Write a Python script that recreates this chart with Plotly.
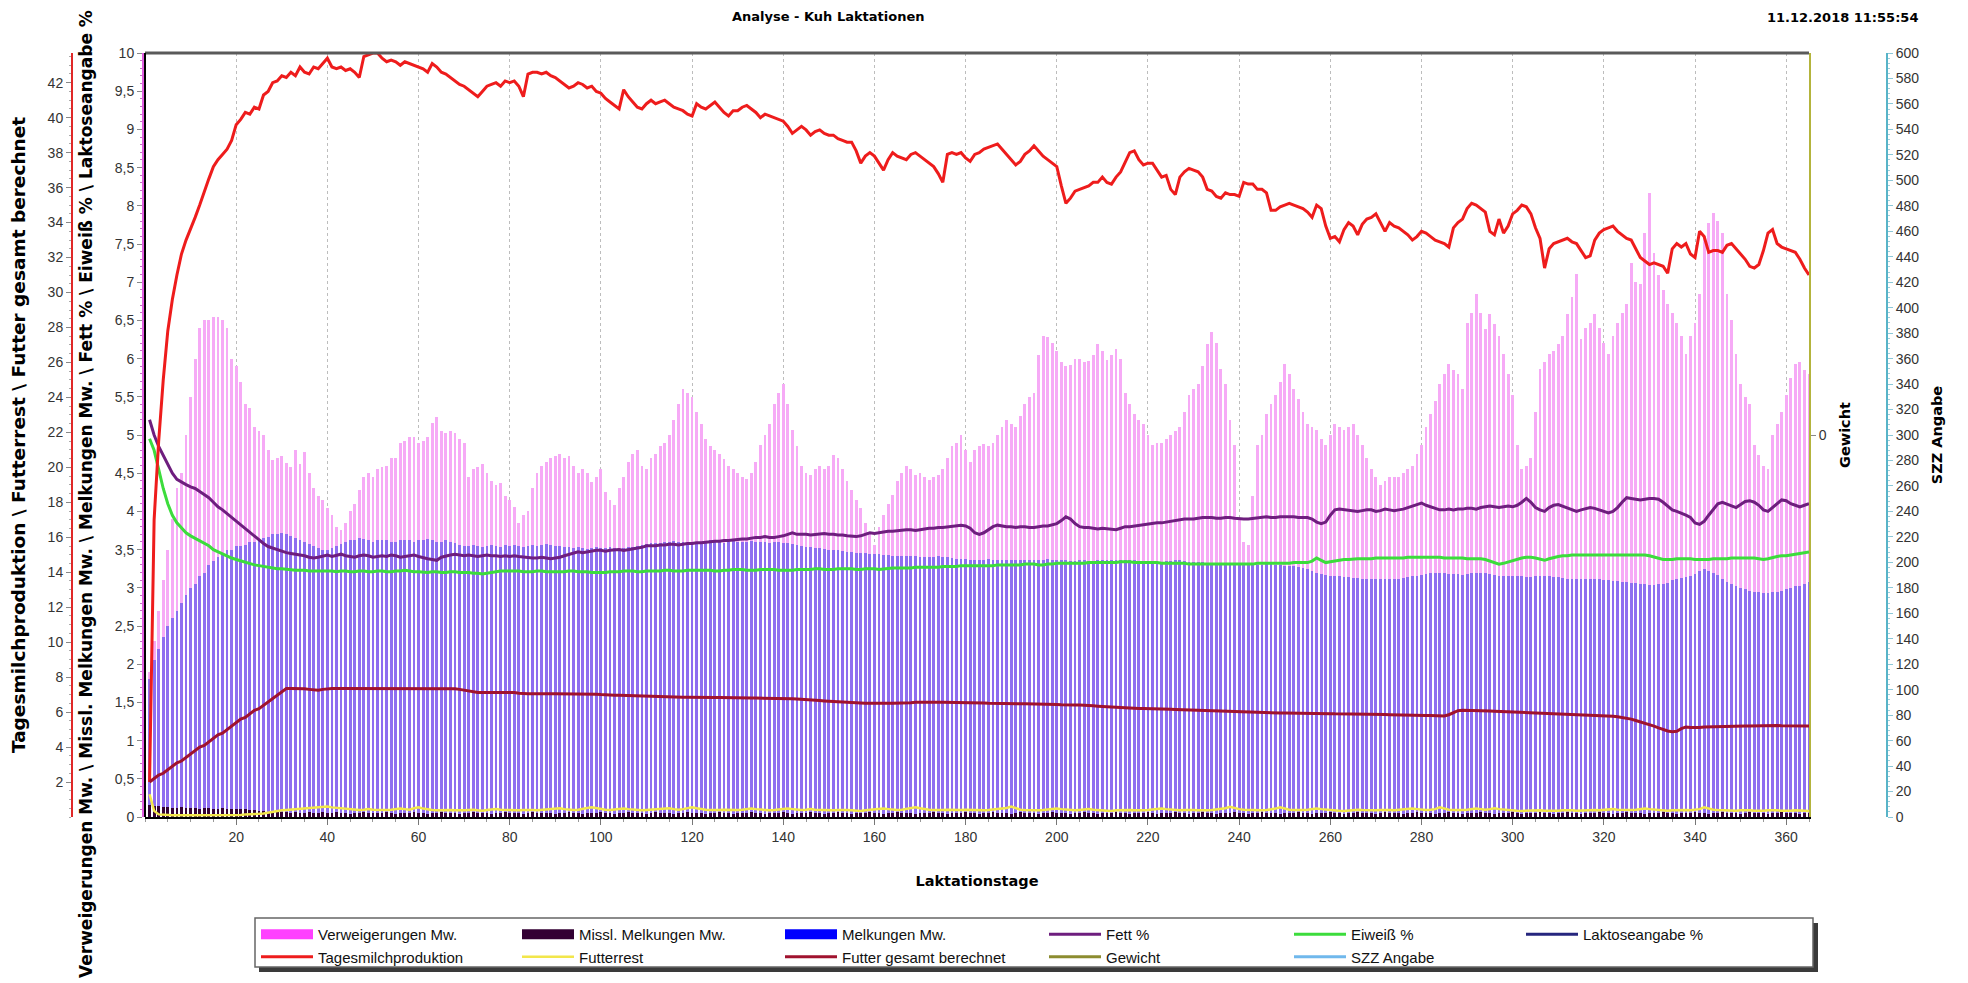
import plotly.graph_objects as go

days = list(range(1, 366))

milk = [
    2.0, 17.0, 21.5, 25.0, 27.8, 29.6, 31.0, 32.2, 33.0, 33.6,
    34.3, 35.0, 35.8, 36.5, 37.2, 37.6, 37.9, 38.2, 38.7, 39.6,
    39.9, 40.3, 40.2, 40.6, 40.5, 41.3, 41.5, 42.0, 42.1, 42.4,
    42.3, 42.6, 42.4, 42.9, 42.6, 42.5, 42.9, 42.8, 43.1, 43.4,
    42.9, 42.8, 42.9, 42.7, 42.8, 42.6, 42.3, 43.5, 43.6, 43.7,
    43.7, 43.4, 43.2, 43.3, 43.2, 43.0, 43.2, 43.1, 43.0, 42.9,
    42.8, 42.6, 43.1, 42.9, 42.6, 42.5, 42.3, 42.1, 41.9, 41.8,
    41.6, 41.4, 41.2, 41.5, 41.8, 41.9, 42.0, 41.8, 42.1, 42.0,
    42.1, 41.8, 41.2, 42.5, 42.6, 42.6, 42.5, 42.6, 42.4, 42.3,
    42.1, 41.9, 41.7, 41.8, 42.0, 41.9, 41.7, 41.8, 41.5, 41.4,
    41.1, 40.9, 40.7, 40.5, 41.6, 41.2, 40.9, 40.6, 40.5, 40.8,
    41.0, 40.8, 40.9, 41.0, 40.8, 40.6, 40.5, 40.4, 40.2, 40.1,
    40.8, 40.6, 40.5, 40.7, 40.9, 40.6, 40.3, 40.1, 40.4, 40.4,
    40.6, 40.7, 40.5, 40.3, 40.0, 40.2, 40.1, 40.0, 39.9, 39.8,
    39.5, 39.1, 39.3, 39.5, 39.3, 39.0, 39.2, 39.3, 39.1, 39.0,
    39.0, 38.8, 38.7, 38.6, 38.6, 38.1, 37.4, 37.8, 38.0, 37.8,
    37.4, 37.0, 37.6, 38.0, 37.8, 37.7, 37.6, 37.9, 38.0, 37.8,
    37.6, 37.4, 37.2, 36.8, 36.3, 37.9, 38.0, 37.9, 38.0, 37.7,
    37.5, 37.9, 38.0, 38.2, 38.3, 38.4, 38.5, 38.2, 37.9, 37.6,
    37.3, 37.5, 37.9, 38.1, 38.4, 38.1, 37.8, 37.6, 37.4, 37.2,
    36.1, 35.1, 35.4, 35.8, 35.9, 36.0, 36.1, 36.3, 36.3, 36.6,
    36.3, 36.2, 36.6, 36.9, 37.5, 38.0, 38.1, 37.6, 37.3, 37.4,
    37.4, 37.0, 36.6, 36.7, 35.9, 35.6, 36.6, 36.9, 37.1, 37.0,
    36.9, 36.6, 35.9, 35.8, 35.5, 35.4, 35.7, 35.6, 35.6, 35.5,
    36.3, 36.2, 36.2, 35.9, 35.9, 35.7, 34.7, 34.7, 34.9, 35.0,
    35.1, 35.0, 34.9, 34.8, 34.6, 34.3, 35.0, 34.8, 33.8, 33.1,
    33.2, 32.9, 33.6, 34.0, 33.8, 33.3, 33.9, 34.2, 34.3, 34.5,
    34.0, 33.5, 34.0, 33.8, 33.7, 33.5, 33.3, 33.0, 33.2, 33.5,
    33.4, 33.2, 33.0, 32.9, 32.8, 32.6, 33.7, 34.0, 34.2, 34.8,
    35.1, 35.0, 34.8, 34.6, 33.5, 33.3, 34.2, 33.4, 33.8, 34.5,
    34.7, 35.0, 34.9, 34.5, 33.7, 33.1, 31.4, 32.5, 32.8, 32.9,
    33.0, 33.1, 32.9, 32.8, 32.4, 32.0, 32.1, 33.0, 33.4, 33.6,
    33.7, 33.8, 33.5, 33.3, 33.1, 33.0, 32.5, 32.0, 31.8, 31.6,
    31.7, 31.6, 31.5, 31.1, 32.5, 32.8, 32.6, 32.8, 32.2, 32.0,
    33.5, 33.2, 32.3, 32.4, 32.4, 32.3, 32.7, 32.8, 32.5, 32.2,
    31.9, 31.5, 31.4, 31.6, 32.4, 33.4, 33.6, 32.8, 32.6, 32.5,
    32.4, 32.3, 31.9, 31.4, 31.0,
]

refusals = [
    1.9, 2.3, 2.7, 3.1, 3.5, 3.9, 4.3, 4.5, 5.0, 5.5,
    6.0, 6.4, 6.5, 6.5, 6.55, 6.55, 6.5, 6.4, 6.0, 5.9,
    5.7, 5.4, 5.35, 5.1, 5.05, 5.0, 4.8, 4.67, 4.7, 4.72,
    4.63, 4.58, 4.8, 4.62, 4.78, 4.5, 4.3, 4.2, 4.15, 4.05,
    3.95, 3.8, 3.76, 3.85, 4.0, 4.1, 4.28, 4.45, 4.5, 4.45,
    4.55, 4.58, 4.6, 4.7, 4.7, 4.9, 4.92, 4.98, 4.98, 4.9,
    4.92, 4.98, 5.16, 5.24, 5.05, 5.03, 5.05, 5.02, 4.95, 4.9,
    4.45, 4.55, 4.58, 4.62, 4.5, 4.4, 4.35, 4.37, 4.2, 4.15,
    4.06, 3.85, 3.95, 4.0, 4.3, 4.5, 4.6, 4.65, 4.7, 4.72,
    4.75, 4.7, 4.72, 4.6, 4.5, 4.55, 4.5, 4.38, 4.45, 4.55,
    4.25, 4.15, 4.08, 4.3, 4.45, 4.65, 4.75, 4.8, 4.6, 4.55,
    4.7, 4.75, 4.85, 4.9, 5.0, 5.2, 5.4, 5.6, 5.55, 5.5,
    5.3, 5.15, 4.95, 4.85, 4.8, 4.75, 4.68, 4.6, 4.55, 4.5,
    4.45, 4.42, 4.5, 4.65, 4.87, 5.0, 5.15, 5.4, 5.55, 5.67,
    5.4, 5.07, 4.85, 4.6, 4.5, 4.48, 4.55, 4.6, 4.55, 4.6,
    4.74, 4.7, 4.55, 4.4, 4.28, 4.15, 4.05, 3.85, 3.7, 3.56,
    3.8, 3.95, 4.1, 4.22, 4.4, 4.5, 4.6, 4.55, 4.48, 4.5,
    4.45, 4.41, 4.45, 4.48, 4.55, 4.7, 4.85, 4.9, 5.0, 4.8,
    4.65, 4.8, 4.85, 4.88, 4.85, 4.9, 5.0, 5.1, 5.2, 5.15,
    5.1, 5.25, 5.4, 5.5, 5.55, 6.05, 6.3, 6.28, 6.2, 6.1,
    5.95, 5.9, 5.92, 6.0, 6.0, 5.95, 5.97, 6.05, 6.19, 6.1,
    5.98, 6.05, 6.13, 6.0, 5.55, 5.4, 5.27, 5.2, 5.14, 5.0,
    4.87, 4.9, 4.9, 4.95, 5.0, 5.05, 5.1, 5.3, 5.53, 5.6,
    5.67, 5.9, 6.19, 6.35, 6.2, 5.86, 5.67, 5.2, 4.87, 3.89,
    3.6, 3.56, 4.2, 4.87, 5.0, 5.27, 5.4, 5.53, 5.7, 5.93,
    5.8, 5.6, 5.47, 5.3, 5.14, 5.1, 5.07, 4.95, 4.87, 5.0,
    5.14, 5.1, 5.07, 5.1, 5.14, 5.0, 4.87, 4.7, 4.55, 4.45,
    4.35, 4.4, 4.45, 4.45, 4.45, 4.5, 4.55, 4.6, 4.75, 4.87,
    5.1, 5.27, 5.45, 5.67, 5.8, 5.93, 5.85, 5.8, 5.6, 6.46,
    6.6, 6.85, 6.6, 6.39, 6.59, 6.45, 6.3, 6.06, 5.8, 5.53,
    4.87, 4.55, 4.6, 4.7, 5.3, 5.86, 5.95, 6.06, 6.1, 6.19,
    6.3, 6.59, 6.8, 7.11, 6.26, 6.4, 6.46, 6.59, 6.4, 6.2,
    6.06, 6.3, 6.46, 6.6, 6.72, 7.25, 7.0, 6.98, 7.64, 8.17,
    7.38, 7.1, 6.9, 6.72, 6.6, 6.46, 6.3, 6.06, 6.3, 6.46,
    6.85, 7.6, 7.77, 7.9, 7.8, 7.64, 6.85, 6.5, 6.06, 5.67,
    5.5, 5.4, 4.87, 4.74, 4.6, 4.55, 5.0, 5.14, 5.3, 5.53,
    5.75, 5.93, 5.95, 5.85, 5.8,
]

milkings = [
    1.8, 2.05, 2.2, 2.35, 2.5, 2.6, 2.7, 2.8, 2.9, 3.0,
    3.05, 3.15, 3.2, 3.3, 3.35, 3.4, 3.45, 3.5, 3.5, 3.55,
    3.55, 3.56, 3.6, 3.6, 3.62, 3.65, 3.66, 3.7, 3.7, 3.72,
    3.7, 3.68, 3.65, 3.62, 3.6, 3.57, 3.55, 3.52, 3.5, 3.5,
    3.52, 3.55, 3.57, 3.6, 3.62, 3.63, 3.65, 3.64, 3.62, 3.6,
    3.62, 3.63, 3.62, 3.6, 3.6, 3.62, 3.63, 3.62, 3.6, 3.62,
    3.63, 3.64, 3.62, 3.6, 3.6, 3.62, 3.6, 3.58, 3.56, 3.55,
    3.55, 3.56, 3.55, 3.54, 3.55, 3.56, 3.55, 3.54, 3.56, 3.55,
    3.56, 3.55, 3.54, 3.55, 3.56, 3.55, 3.56, 3.57, 3.56, 3.55,
    3.55, 3.54, 3.53, 3.52, 3.53, 3.52, 3.51, 3.52, 3.53, 3.52,
    3.52, 3.53, 3.52, 3.51, 3.52, 3.53, 3.54, 3.55, 3.56, 3.57,
    3.58, 3.58, 3.59, 3.6, 3.6, 3.61, 3.6, 3.6, 3.59, 3.6,
    3.6, 3.6, 3.61, 3.62, 3.6, 3.6, 3.59, 3.6, 3.61, 3.6,
    3.6, 3.6, 3.61, 3.6, 3.6, 3.6, 3.59, 3.6, 3.6, 3.59,
    3.58, 3.57, 3.56, 3.55, 3.54, 3.53, 3.52, 3.52, 3.51, 3.5,
    3.5, 3.49, 3.48, 3.47, 3.47, 3.46, 3.45, 3.45, 3.44, 3.44,
    3.44, 3.43, 3.43, 3.42, 3.42, 3.42, 3.41, 3.41, 3.41, 3.4,
    3.4, 3.4, 3.4, 3.41, 3.4, 3.4, 3.39, 3.38, 3.38, 3.38,
    3.37, 3.37, 3.36, 3.37, 3.38, 3.37, 3.36, 3.36, 3.37, 3.36,
    3.36, 3.37, 3.37, 3.36, 3.36, 3.36, 3.37, 3.38, 3.37, 3.36,
    3.36, 3.36, 3.35, 3.35, 3.36, 3.36, 3.35, 3.35, 3.36, 3.37,
    3.37, 3.36, 3.36, 3.37, 3.37, 3.36, 3.36, 3.35, 3.35, 3.35,
    3.35, 3.34, 3.34, 3.35, 3.35, 3.36, 3.36, 3.35, 3.34, 3.34,
    3.34, 3.34, 3.33, 3.33, 3.33, 3.32, 3.32, 3.32, 3.31, 3.31,
    3.31, 3.3, 3.3, 3.3, 3.3, 3.31, 3.31, 3.3, 3.3, 3.29,
    3.29, 3.28, 3.27, 3.26, 3.25, 3.22, 3.2, 3.18, 3.17, 3.16,
    3.15, 3.15, 3.14, 3.14, 3.13, 3.13, 3.12, 3.12, 3.12, 3.11,
    3.11, 3.11, 3.11, 3.12, 3.12, 3.13, 3.14, 3.15, 3.16, 3.17,
    3.18, 3.19, 3.2, 3.2, 3.19, 3.18, 3.18, 3.18, 3.17, 3.18,
    3.19, 3.2, 3.2, 3.19, 3.18, 3.17, 3.16, 3.16, 3.15, 3.15,
    3.15, 3.15, 3.14, 3.14, 3.15, 3.16, 3.16, 3.15, 3.14, 3.14,
    3.13, 3.12, 3.12, 3.11, 3.11, 3.12, 3.12, 3.11, 3.11, 3.1,
    3.1, 3.09, 3.09, 3.08, 3.07, 3.06, 3.06, 3.05, 3.05, 3.04,
    3.04, 3.05, 3.05, 3.06, 3.1, 3.12, 3.13, 3.14, 3.15, 3.18,
    3.22, 3.24, 3.22, 3.2, 3.17, 3.12, 3.08, 3.05, 3.02, 3.0,
    2.98, 2.96, 2.95, 2.94, 2.93, 2.93, 2.94, 2.95, 2.96, 2.98,
    3.0, 3.02, 3.03, 3.05, 3.08,
]

failed_milkings = [
    0.16, 0.15, 0.14, 0.13, 0.13, 0.12, 0.12, 0.13, 0.12, 0.12,
    0.12, 0.11, 0.12, 0.12, 0.11, 0.11, 0.12, 0.11, 0.11, 0.10,
    0.10, 0.10, 0.09, 0.09, 0.08, 0.08, 0.07, 0.07, 0.06, 0.06,
    0.06, 0.05, 0.06, 0.05, 0.05, 0.06, 0.05, 0.05, 0.06, 0.05,
    0.05, 0.06, 0.05, 0.05, 0.04, 0.05, 0.05, 0.06, 0.05, 0.05,
    0.05, 0.05, 0.06, 0.05, 0.04, 0.05, 0.05, 0.05, 0.06, 0.05,
    0.05, 0.04, 0.05, 0.05, 0.06, 0.05, 0.05, 0.05, 0.04, 0.05,
    0.05, 0.06, 0.05, 0.05, 0.05, 0.04, 0.05, 0.05, 0.06, 0.05,
    0.05, 0.05, 0.04, 0.05, 0.06, 0.05, 0.05, 0.05, 0.05, 0.04,
    0.05, 0.05, 0.06, 0.05, 0.05, 0.04, 0.05, 0.05, 0.05, 0.06,
    0.05, 0.05, 0.04, 0.05, 0.05, 0.06, 0.05, 0.05, 0.05, 0.04,
    0.05, 0.06, 0.05, 0.05, 0.05, 0.04, 0.05, 0.05, 0.06, 0.05,
    0.05, 0.05, 0.04, 0.05, 0.05, 0.06, 0.05, 0.05, 0.04, 0.05,
    0.05, 0.05, 0.06, 0.05, 0.05, 0.04, 0.05, 0.05, 0.05, 0.06,
    0.05, 0.04, 0.05, 0.05, 0.05, 0.06, 0.05, 0.05, 0.04, 0.05,
    0.05, 0.06, 0.05, 0.05, 0.04, 0.05, 0.05, 0.05, 0.06, 0.05,
    0.05, 0.04, 0.05, 0.05, 0.06, 0.05, 0.05, 0.05, 0.04, 0.05,
    0.05, 0.05, 0.06, 0.05, 0.05, 0.04, 0.05, 0.05, 0.05, 0.06,
    0.05, 0.05, 0.04, 0.05, 0.05, 0.06, 0.05, 0.05, 0.05, 0.04,
    0.05, 0.06, 0.05, 0.05, 0.05, 0.04, 0.05, 0.05, 0.06, 0.05,
    0.05, 0.05, 0.04, 0.05, 0.05, 0.06, 0.05, 0.05, 0.04, 0.05,
    0.05, 0.05, 0.06, 0.05, 0.05, 0.04, 0.05, 0.05, 0.05, 0.06,
    0.05, 0.04, 0.05, 0.05, 0.05, 0.06, 0.05, 0.05, 0.04, 0.05,
    0.05, 0.06, 0.05, 0.05, 0.04, 0.05, 0.05, 0.05, 0.06, 0.05,
    0.05, 0.04, 0.05, 0.05, 0.06, 0.05, 0.05, 0.05, 0.04, 0.05,
    0.05, 0.05, 0.06, 0.05, 0.05, 0.04, 0.05, 0.05, 0.05, 0.06,
    0.05, 0.05, 0.04, 0.05, 0.05, 0.06, 0.05, 0.05, 0.05, 0.04,
    0.05, 0.06, 0.05, 0.05, 0.05, 0.04, 0.05, 0.05, 0.06, 0.05,
    0.05, 0.05, 0.04, 0.05, 0.05, 0.06, 0.05, 0.05, 0.04, 0.05,
    0.05, 0.05, 0.06, 0.05, 0.05, 0.04, 0.05, 0.05, 0.05, 0.06,
    0.05, 0.04, 0.05, 0.05, 0.05, 0.06, 0.05, 0.05, 0.04, 0.05,
    0.05, 0.06, 0.05, 0.05, 0.04, 0.05, 0.05, 0.05, 0.06, 0.05,
    0.05, 0.04, 0.05, 0.05, 0.06, 0.05, 0.05, 0.05, 0.04, 0.05,
    0.05, 0.05, 0.06, 0.05, 0.05, 0.04, 0.05, 0.05, 0.05, 0.06,
    0.05, 0.05, 0.04, 0.05, 0.05, 0.06, 0.05, 0.05, 0.05, 0.04,
    0.05, 0.06, 0.05, 0.05, 0.05, 0.04, 0.05, 0.05, 0.06, 0.05,
    0.05, 0.05, 0.04, 0.05, 0.05,
]

fat = [
    5.2, 5.0, 4.85, 4.74, 4.62, 4.5, 4.42, 4.38, 4.35, 4.32,
    4.3, 4.26, 4.22, 4.18, 4.12, 4.06, 4.02, 3.97, 3.92, 3.87,
    3.82, 3.77, 3.72, 3.67, 3.62, 3.58, 3.54, 3.52, 3.5, 3.47,
    3.46, 3.45, 3.44, 3.43, 3.42, 3.4, 3.39, 3.4, 3.42, 3.43,
    3.41, 3.42, 3.44, 3.42, 3.41, 3.4, 3.42, 3.43, 3.42, 3.4,
    3.41, 3.42, 3.41, 3.43, 3.42, 3.4, 3.41, 3.42, 3.43, 3.41,
    3.39, 3.38, 3.37, 3.36, 3.4, 3.42, 3.43, 3.44, 3.43, 3.42,
    3.43, 3.42, 3.41, 3.42, 3.43, 3.42, 3.42, 3.41, 3.42, 3.41,
    3.42, 3.41, 3.4, 3.4, 3.39, 3.39, 3.4, 3.39, 3.38, 3.39,
    3.4, 3.42, 3.44, 3.45, 3.47, 3.46, 3.47, 3.48, 3.49, 3.49,
    3.48, 3.49, 3.5, 3.5, 3.49, 3.5, 3.51, 3.52, 3.53, 3.55,
    3.55, 3.55, 3.56, 3.56, 3.57, 3.57, 3.56, 3.57, 3.58, 3.58,
    3.59, 3.59, 3.6, 3.6, 3.61, 3.61, 3.62, 3.62, 3.63, 3.63,
    3.64, 3.64, 3.65, 3.66, 3.66, 3.67, 3.66, 3.66, 3.67, 3.68,
    3.7, 3.72, 3.7, 3.7, 3.7, 3.69, 3.7, 3.7, 3.71, 3.7,
    3.7, 3.69, 3.69, 3.68, 3.67, 3.67, 3.68, 3.7, 3.72, 3.71,
    3.72, 3.73, 3.74, 3.74, 3.75, 3.75, 3.76, 3.76, 3.75, 3.76,
    3.77, 3.78, 3.78, 3.79, 3.79, 3.8, 3.81, 3.82, 3.82, 3.81,
    3.78, 3.72, 3.7, 3.72, 3.76, 3.8, 3.82, 3.81, 3.8, 3.8,
    3.79, 3.8, 3.8, 3.79, 3.79, 3.8, 3.81, 3.81, 3.82, 3.84,
    3.88, 3.93, 3.9, 3.84, 3.8, 3.79, 3.79, 3.78, 3.77, 3.78,
    3.77, 3.76, 3.76, 3.78, 3.8, 3.8, 3.81, 3.82, 3.83, 3.84,
    3.84, 3.85, 3.85, 3.86, 3.87, 3.88, 3.89, 3.9, 3.9, 3.9,
    3.91, 3.92, 3.92, 3.92, 3.91, 3.91, 3.92, 3.92, 3.91, 3.9,
    3.9, 3.9, 3.91, 3.92, 3.92, 3.93, 3.92, 3.92, 3.93, 3.93,
    3.93, 3.93, 3.92, 3.92, 3.92, 3.9, 3.86, 3.84, 3.86, 3.95,
    4.02, 4.03, 4.02, 4.02, 4.01, 4.0, 4.01, 4.02, 4.02, 4.0,
    4.01, 4.03, 4.02, 4.01, 4.02, 4.03, 4.05, 4.07, 4.1, 4.11,
    4.08, 4.06, 4.04, 4.02, 4.02, 4.03, 4.02, 4.03, 4.03, 4.04,
    4.04, 4.03, 4.05, 4.06, 4.07, 4.06, 4.05, 4.06, 4.07, 4.06,
    4.08, 4.12, 4.17, 4.12, 4.05, 4.02, 4.0, 4.05, 4.08, 4.09,
    4.07, 4.04, 4.02, 4.0, 4.02, 4.04, 4.05, 4.04, 4.02, 4.0,
    3.98, 4.0, 4.05, 4.12, 4.18, 4.17, 4.16, 4.15, 4.16, 4.17,
    4.17, 4.16, 4.12, 4.07, 4.02, 4.0, 3.98, 3.95, 3.92, 3.85,
    3.83, 3.87, 3.95, 4.02, 4.1, 4.12, 4.1, 4.08, 4.05, 4.09,
    4.13, 4.14, 4.12, 4.08, 4.02, 4.0, 4.05, 4.1, 4.15, 4.14,
    4.1, 4.08, 4.06, 4.08, 4.1,
]

protein = [
    4.95, 4.80, 4.55, 4.30, 4.10, 3.95, 3.85, 3.78, 3.72, 3.68,
    3.65, 3.62, 3.58, 3.55, 3.50, 3.47, 3.44, 3.42, 3.39, 3.37,
    3.35, 3.33, 3.32, 3.30, 3.29, 3.28, 3.27, 3.26, 3.25, 3.25,
    3.24, 3.24, 3.23, 3.23, 3.23, 3.22, 3.22, 3.22, 3.22, 3.22,
    3.22, 3.21, 3.22, 3.22, 3.21, 3.21, 3.22, 3.22, 3.21, 3.21,
    3.22, 3.22, 3.21, 3.21, 3.22, 3.22, 3.23, 3.22, 3.21, 3.21,
    3.20, 3.20, 3.21, 3.21, 3.20, 3.20, 3.21, 3.21, 3.20, 3.20,
    3.20, 3.19, 3.19, 3.18, 3.19, 3.20, 3.21, 3.22, 3.22, 3.22,
    3.22, 3.22, 3.21, 3.21, 3.21, 3.22, 3.22, 3.21, 3.21, 3.21,
    3.21, 3.21, 3.22, 3.22, 3.21, 3.21, 3.21, 3.20, 3.20, 3.20,
    3.20, 3.21, 3.21, 3.21, 3.22, 3.22, 3.22, 3.21, 3.21, 3.22,
    3.22, 3.22, 3.22, 3.23, 3.23, 3.22, 3.22, 3.22, 3.23, 3.23,
    3.23, 3.23, 3.23, 3.23, 3.22, 3.22, 3.23, 3.23, 3.24, 3.24,
    3.24, 3.23, 3.23, 3.23, 3.24, 3.24, 3.24, 3.24, 3.23, 3.23,
    3.23, 3.23, 3.24, 3.24, 3.24, 3.24, 3.25, 3.25, 3.24, 3.24,
    3.24, 3.25, 3.25, 3.25, 3.25, 3.24, 3.24, 3.25, 3.25, 3.25,
    3.24, 3.25, 3.25, 3.26, 3.26, 3.26, 3.26, 3.26, 3.27, 3.27,
    3.27, 3.27, 3.27, 3.27, 3.28, 3.28, 3.28, 3.28, 3.29, 3.29,
    3.29, 3.29, 3.29, 3.29, 3.29, 3.29, 3.30, 3.30, 3.30, 3.30,
    3.30, 3.30, 3.31, 3.31, 3.31, 3.30, 3.30, 3.31, 3.31, 3.32,
    3.32, 3.32, 3.32, 3.32, 3.32, 3.32, 3.33, 3.33, 3.33, 3.33,
    3.33, 3.33, 3.33, 3.34, 3.34, 3.34, 3.33, 3.33, 3.33, 3.33,
    3.33, 3.33, 3.32, 3.32, 3.32, 3.32, 3.32, 3.32, 3.31, 3.31,
    3.31, 3.31, 3.31, 3.31, 3.31, 3.31, 3.31, 3.31, 3.31, 3.31,
    3.31, 3.31, 3.31, 3.32, 3.32, 3.32, 3.32, 3.32, 3.32, 3.32,
    3.32, 3.33, 3.33, 3.33, 3.33, 3.35, 3.39, 3.36, 3.33, 3.34,
    3.35, 3.36, 3.37, 3.37, 3.38, 3.38, 3.38, 3.38, 3.38, 3.39,
    3.39, 3.39, 3.39, 3.39, 3.39, 3.39, 3.40, 3.40, 3.40, 3.40,
    3.40, 3.40, 3.40, 3.40, 3.39, 3.39, 3.39, 3.39, 3.39, 3.38,
    3.38, 3.38, 3.38, 3.37, 3.35, 3.32, 3.31, 3.32, 3.34, 3.36,
    3.38, 3.39, 3.40, 3.40, 3.39, 3.37, 3.36, 3.38, 3.40, 3.41,
    3.42, 3.42, 3.43, 3.43, 3.43, 3.43, 3.43, 3.43, 3.43, 3.43,
    3.43, 3.43, 3.43, 3.43, 3.43, 3.43, 3.43, 3.43, 3.43, 3.42,
    3.40, 3.38, 3.37, 3.37, 3.37, 3.38, 3.38, 3.38, 3.38, 3.37,
    3.37, 3.37, 3.37, 3.38, 3.38, 3.38, 3.38, 3.39, 3.39, 3.39,
    3.39, 3.39, 3.39, 3.38, 3.37, 3.38, 3.40, 3.41, 3.42, 3.42,
    3.43, 3.44, 3.45, 3.46, 3.47,
]

feed_total = [
    2.0, 2.2, 2.4, 2.5, 2.7, 2.9, 3.1, 3.2, 3.4, 3.6,
    3.8, 4.0, 4.1, 4.3, 4.5, 4.7, 4.8, 5.0, 5.2, 5.4,
    5.6, 5.7, 5.9, 6.1, 6.2, 6.4, 6.6, 6.8, 6.95, 7.15,
    7.35, 7.35, 7.35, 7.34, 7.33, 7.30, 7.27, 7.25, 7.30, 7.34,
    7.35, 7.35, 7.35, 7.35, 7.35, 7.35, 7.35, 7.35, 7.35, 7.35,
    7.35, 7.36, 7.36, 7.36, 7.36, 7.36, 7.35, 7.35, 7.35, 7.35,
    7.35, 7.35, 7.35, 7.35, 7.35, 7.34, 7.34, 7.33, 7.30, 7.25,
    7.20, 7.15, 7.12, 7.12, 7.12, 7.12, 7.12, 7.12, 7.14, 7.15,
    7.12, 7.08, 7.05, 7.05, 7.05, 7.06, 7.06, 7.05, 7.05, 7.05,
    7.05, 7.05, 7.04, 7.04, 7.03, 7.03, 7.03, 7.02, 7.02, 7.00,
    6.98, 6.97, 6.97, 6.97, 6.96, 6.96, 6.96, 6.95, 6.93, 6.90,
    6.88, 6.87, 6.87, 6.86, 6.86, 6.86, 6.85, 6.85, 6.85, 6.84,
    6.84, 6.84, 6.83, 6.83, 6.83, 6.83, 6.82, 6.82, 6.82, 6.81,
    6.81, 6.80, 6.80, 6.80, 6.80, 6.80, 6.80, 6.79, 6.78, 6.78,
    6.77, 6.76, 6.75, 6.74, 6.72, 6.70, 6.68, 6.66, 6.64, 6.62,
    6.60, 6.58, 6.56, 6.55, 6.54, 6.53, 6.52, 6.51, 6.50, 6.50,
    6.50, 6.50, 6.50, 6.50, 6.50, 6.51, 6.52, 6.54, 6.56, 6.57,
    6.58, 6.58, 6.58, 6.57, 6.56, 6.56, 6.56, 6.56, 6.55, 6.55,
    6.55, 6.54, 6.53, 6.52, 6.51, 6.50, 6.50, 6.50, 6.49, 6.49,
    6.49, 6.48, 6.48, 6.48, 6.47, 6.47, 6.46, 6.46, 6.45, 6.44,
    6.42, 6.40, 6.40, 6.40, 6.40, 6.40, 6.38, 6.36, 6.34, 6.32,
    6.30, 6.28, 6.26, 6.24, 6.22, 6.20, 6.20, 6.20, 6.20, 6.20,
    6.20, 6.19, 6.18, 6.17, 6.16, 6.15, 6.14, 6.13, 6.12, 6.11,
    6.10, 6.09, 6.08, 6.07, 6.06, 6.05, 6.05, 6.05, 6.04, 6.03,
    6.02, 6.01, 6.00, 6.00, 5.99, 5.98, 5.97, 5.96, 5.95, 5.95,
    5.95, 5.94, 5.94, 5.93, 5.93, 5.92, 5.92, 5.92, 5.91, 5.91,
    5.90, 5.90, 5.90, 5.90, 5.89, 5.89, 5.88, 5.88, 5.87, 5.87,
    5.86, 5.86, 5.85, 5.85, 5.84, 5.84, 5.83, 5.83, 5.82, 5.82,
    5.81, 5.80, 5.80, 5.79, 5.78, 5.85, 5.98, 6.08, 6.10, 6.10,
    6.10, 6.09, 6.08, 6.07, 6.06, 6.05, 6.04, 6.03, 6.02, 6.01,
    6.00, 5.99, 5.98, 5.97, 5.96, 5.95, 5.94, 5.93, 5.92, 5.91,
    5.90, 5.89, 5.88, 5.87, 5.86, 5.85, 5.84, 5.83, 5.82, 5.80,
    5.78, 5.76, 5.74, 5.70, 5.65, 5.60, 5.52, 5.45, 5.38, 5.30,
    5.20, 5.10, 5.00, 4.92, 4.88, 4.90, 5.05, 5.15, 5.12, 5.10,
    5.12, 5.15, 5.16, 5.17, 5.18, 5.18, 5.18, 5.19, 5.19, 5.20,
    5.20, 5.20, 5.21, 5.21, 5.22, 5.22, 5.23, 5.23, 5.22, 5.22,
    5.22, 5.21, 5.21, 5.20, 5.20,
]

feed_rest = [
    1.30, 0.35, 0.15, 0.12, 0.12, 0.10, 0.10, 0.12, 0.10, 0.10,
    0.10, 0.12, 0.12, 0.10, 0.10, 0.12, 0.12, 0.10, 0.10, 0.12,
    0.12, 0.15, 0.15, 0.18, 0.18, 0.20, 0.25, 0.30, 0.35, 0.38,
    0.40, 0.42, 0.45, 0.48, 0.50, 0.52, 0.55, 0.55, 0.58, 0.60,
    0.55, 0.52, 0.50, 0.48, 0.45, 0.42, 0.40, 0.42, 0.45, 0.42,
    0.40, 0.38, 0.40, 0.42, 0.45, 0.48, 0.45, 0.42, 0.50, 0.55,
    0.48, 0.42, 0.40, 0.38, 0.40, 0.42, 0.40, 0.38, 0.36, 0.38,
    0.40, 0.42, 0.38, 0.36, 0.40, 0.42, 0.45, 0.42, 0.40, 0.38,
    0.36, 0.38, 0.40, 0.42, 0.40, 0.38, 0.40, 0.42, 0.45, 0.48,
    0.50, 0.45, 0.42, 0.40, 0.42, 0.48, 0.52, 0.55, 0.50, 0.45,
    0.42, 0.40, 0.42, 0.45, 0.48, 0.45, 0.42, 0.40, 0.38, 0.40,
    0.42, 0.45, 0.48, 0.52, 0.50, 0.45, 0.42, 0.45, 0.50, 0.55,
    0.50, 0.45, 0.42, 0.40, 0.38, 0.40, 0.42, 0.40, 0.38, 0.40,
    0.42, 0.45, 0.48, 0.45, 0.42, 0.40, 0.38, 0.40, 0.42, 0.45,
    0.48, 0.45, 0.42, 0.40, 0.42, 0.45, 0.42, 0.40, 0.38, 0.36,
    0.38, 0.40, 0.42, 0.40, 0.38, 0.36, 0.35, 0.38, 0.40, 0.42,
    0.45, 0.48, 0.45, 0.42, 0.40, 0.42, 0.45, 0.50, 0.55, 0.50,
    0.45, 0.42, 0.40, 0.38, 0.40, 0.42, 0.40, 0.38, 0.40, 0.42,
    0.40, 0.38, 0.36, 0.38, 0.40, 0.42, 0.45, 0.48, 0.52, 0.60,
    0.50, 0.42, 0.40, 0.38, 0.36, 0.38, 0.40, 0.42, 0.45, 0.48,
    0.45, 0.42, 0.40, 0.38, 0.40, 0.42, 0.45, 0.42, 0.40, 0.38,
    0.36, 0.35, 0.38, 0.40, 0.42, 0.40, 0.38, 0.36, 0.38, 0.40,
    0.42, 0.45, 0.48, 0.45, 0.42, 0.40, 0.38, 0.40, 0.42, 0.40,
    0.38, 0.36, 0.38, 0.40, 0.42, 0.45, 0.50, 0.58, 0.50, 0.45,
    0.42, 0.40, 0.38, 0.36, 0.38, 0.40, 0.42, 0.48, 0.55, 0.48,
    0.42, 0.40, 0.38, 0.40, 0.42, 0.45, 0.48, 0.45, 0.42, 0.40,
    0.38, 0.36, 0.35, 0.38, 0.40, 0.42, 0.40, 0.38, 0.36, 0.38,
    0.40, 0.42, 0.40, 0.38, 0.40, 0.42, 0.45, 0.48, 0.45, 0.42,
    0.40, 0.42, 0.45, 0.55, 0.48, 0.42, 0.40, 0.38, 0.40, 0.42,
    0.45, 0.48, 0.45, 0.42, 0.45, 0.50, 0.45, 0.42, 0.40, 0.38,
    0.36, 0.35, 0.36, 0.38, 0.40, 0.38, 0.36, 0.35, 0.35, 0.36,
    0.38, 0.40, 0.38, 0.36, 0.38, 0.40, 0.42, 0.40, 0.38, 0.40,
    0.42, 0.45, 0.42, 0.40, 0.38, 0.40, 0.42, 0.45, 0.48, 0.45,
    0.42, 0.40, 0.38, 0.36, 0.38, 0.40, 0.42, 0.40, 0.38, 0.40,
    0.45, 0.55, 0.48, 0.42, 0.40, 0.38, 0.36, 0.35, 0.36, 0.38,
    0.40, 0.38, 0.36, 0.35, 0.36, 0.38, 0.40, 0.38, 0.36, 0.35,
    0.36, 0.38, 0.36, 0.35, 0.35,
]

# series without recorded values in this lactation (legend entries only)
lactose = [None]
weight = [None]
scc = [None]

x_ticks = [20, 40, 60, 80, 100, 120, 140, 160, 180, 200, 220, 240, 260, 280, 300, 320, 340, 360]
outer_ticks = [2, 4, 6, 8, 10, 12, 14, 16, 18, 20, 22, 24, 26, 28, 30, 32, 34, 36, 38, 40, 42]

# the page body has an 8px margin: the figure is sized and placed so that page pixels match
OFF = 8
W, H = 1968 - OFF, 983 - OFF
ML, MR, MT, MB = 2, 2, 2, 2
PW, PH = W - ML - MR, H - MT - MB


def px(page_x):
    return (page_x - OFF - ML) / PW


def py(page_y):
    return (H - MB - (page_y - OFF)) / PH


X0, X1 = px(145), px(1809)
Y0, Y1 = py(817), py(53)

TICKFONT = dict(family="Liberation Sans", size=14, color="#333333")
LEFT_TITLE = dict(family="DejaVu Sans", size=18.5, color="#000000", weight="bold")
INNER_TITLE = dict(family="DejaVu Sans", size=17, color="#000000", weight="bold")
RIGHT_TITLE = dict(family="DejaVu Sans", size=14.5, color="#000000", weight="bold")
LEGFONT = dict(family="Liberation Sans", size=15, color="#111111")


def xs(vals):
    return days[:len(vals)]


fig = go.Figure()
# bars (drawn first, behind the lines)
fig.add_trace(go.Bar(x=xs(refusals), y=refusals, name="Verweigerungen Mw.", marker_color="#F6AAF6",
                     marker_line_width=0, width=0.62, yaxis="y", showlegend=False))
fig.add_trace(go.Bar(x=xs(milkings), y=milkings, name="Melkungen Mw.", marker_color="#8E6EF0",
                     marker_line_width=0, width=0.62, yaxis="y", showlegend=False))
fig.add_trace(go.Bar(x=xs(failed_milkings), y=failed_milkings, name="Missl. Melkungen Mw.",
                     marker_color="#330033", marker_line_width=0, width=0.62, yaxis="y", showlegend=False))

# lines
fig.add_trace(go.Scatter(x=xs(fat), y=fat, name="Fett %", mode="lines",
                         line=dict(color="#6E1E7E", width=3), yaxis="y", legend="legend4", legendrank=1))
fig.add_trace(go.Scatter(x=xs(protein), y=protein, name="Eiweiß %", mode="lines",
                         line=dict(color="#3CDC3C", width=3), yaxis="y", legend="legend5", legendrank=1))
fig.add_trace(go.Scatter(x=xs(lactose), y=lactose, name="Laktoseangabe %", mode="lines",
                         line=dict(color="#26267E", width=3), yaxis="y", legend="legend6", legendrank=1))
fig.add_trace(go.Scatter(x=xs(milk), y=milk, name="Tagesmilchproduktion", mode="lines",
                         line=dict(color="#EE1C1C", width=3), yaxis="y2", legend="legend", legendrank=2))
fig.add_trace(go.Scatter(x=xs(feed_rest), y=feed_rest, name="Futterrest", mode="lines",
                         line=dict(color="#F2E64A", width=2.5), yaxis="y2", legend="legend2", legendrank=2))
fig.add_trace(go.Scatter(x=xs(feed_total), y=feed_total, name="Futter gesamt berechnet", mode="lines",
                         line=dict(color="#A0122E", width=3), yaxis="y2", legend="legend3", legendrank=2))
fig.add_trace(go.Scatter(x=xs(weight), y=weight, name="Gewicht", mode="lines",
                         line=dict(color="#8C8C30", width=3), yaxis="y3", legend="legend4", legendrank=2))
fig.add_trace(go.Scatter(x=xs(scc), y=scc, name="SZZ Angabe", mode="lines",
                         line=dict(color="#70B8EC", width=3), yaxis="y4", legend="legend5", legendrank=2))

# legend swatches for the bar series (solid colour blocks as in the original legend)
bar_legend = [("Verweigerungen Mw.", "#FF40FF", "legend"),
              ("Missl. Melkungen Mw.", "#330033", "legend2"),
              ("Melkungen Mw.", "#0000FF", "legend3")]
for nm, col, lg in bar_legend:
    fig.add_trace(go.Scatter(x=[None], y=[None], name=nm, mode="lines",
                             line=dict(color=col, width=14), yaxis="y", legend=lg, legendrank=1))

legend_cols = [260, 521, 784, 1048, 1293, 1525]
legend_names = ["legend", "legend2", "legend3", "legend4", "legend5", "legend6"]
legend_layout = {}
for nm, cx in zip(legend_names, legend_cols):
    legend_layout[nm] = dict(
        orientation="v", x=px(cx - 4), xanchor="left", y=py(918), yanchor="top",
        bgcolor="rgba(0,0,0,0)", borderwidth=0, font=LEGFONT,
        itemwidth=52, tracegroupgap=0, traceorder="normal",
    )

fig.update_layout(
    width=W, height=H, autosize=False,
    margin=dict(l=ML, r=MR, t=MT, b=MB),
    paper_bgcolor="white", plot_bgcolor="white",
    separators=",.",
    barmode="overlay", bargap=0,
    font=dict(family="Liberation Sans", size=14, color="#333333"),
    xaxis=dict(
        domain=[X0, X1], range=[0, 365], anchor="y", automargin=False,
        tickvals=x_ticks, ticks="outside", ticklen=6, tickcolor="#777777",
        tickfont=TICKFONT,
        minor=dict(dtick=5, tick0=0, ticks="outside", ticklen=3, tickcolor="#999999", showgrid=False),
        showgrid=True, gridcolor="#BDBDBD", griddash="3px,3px", gridwidth=1,
        showline=True, linecolor="#000000", linewidth=2,
        zeroline=False,
        title=dict(text="Laktationstage", font=dict(family="DejaVu Sans", size=14.5, color="#000000", weight="bold"),
                   standoff=32),
    ),
    yaxis=dict(
        domain=[Y0, Y1], range=[0, 10], anchor="free", position=px(143), side="left", automargin=False,
        dtick=0.5, tick0=0, ticks="outside", ticklen=5, tickcolor="#888888",
        tickfont=TICKFONT,
        minor=dict(dtick=0.1, ticks="outside", ticklen=2, tickcolor="#C070C0"),
        showline=True, linecolor="#E060E0", linewidth=2,
        showgrid=False, zeroline=False,
    ),
    yaxis2=dict(
        overlaying="y", range=[0, 43.7], anchor="free", position=px(72), side="left", automargin=False,
        tickvals=outer_ticks, ticks="outside", ticklen=5, tickcolor="#888888",
        tickfont=TICKFONT,
        minor=dict(dtick=0.5, ticks="outside", ticklen=2, tickcolor="#AAAAAA"),
        showline=True, linecolor="#E02828", linewidth=2,
        showgrid=False, zeroline=False,
        title=dict(text="Tagesmilchproduktion \\ Futterrest \\ Futter gesamt berechnet", font=LEFT_TITLE, standoff=22),
    ),
    yaxis3=dict(
        overlaying="y", range=[-1, 1], anchor="x", side="right", automargin=False,
        tickvals=[0], ticks="outside", ticklen=5, tickcolor="#888888",
        tickfont=TICKFONT,
        showline=True, linecolor="#B4B43C", linewidth=2,
        showgrid=False, zeroline=False,
        title=dict(text="Gewicht", font=RIGHT_TITLE, standoff=14),
    ),
    yaxis4=dict(
        overlaying="y", range=[0, 600], anchor="free", position=px(1887), side="right", automargin=False,
        dtick=20, tick0=0, ticks="outside", ticklen=5, tickcolor="#8CC8D8",
        tickfont=TICKFONT,
        minor=dict(dtick=4, ticks="outside", ticklen=2, tickcolor="#9CCFDD"),
        showline=True, linecolor="#58B4C8", linewidth=2,
        showgrid=False, zeroline=False,
        title=dict(text="SZZ Angabe", font=RIGHT_TITLE, standoff=12),
    ),
    annotations=[
        dict(text="<b>Analyse - Kuh Laktationen</b>", x=px(828), y=py(16), xref="paper", yref="paper",
             showarrow=False, xanchor="center", yanchor="middle",
             font=dict(family="DejaVu Sans", size=13, color="#000000")),
        dict(text="<b>11.12.2018 11:55:54</b>", x=px(1920), y=py(17), xref="paper", yref="paper",
             showarrow=False, xanchor="right", yanchor="middle",
             font=dict(family="DejaVu Sans", size=13, color="#000000")),
        # title of the inner left axis (long text, placed so that it stays inside the picture)
        dict(text="Verweigerungen Mw. \\ Missl. Melkungen Mw. \\ Melkungen Mw. \\ Fett % \\ Eiweiß % \\ Laktoseangabe %",
             x=px(86), y=py(494), xref="paper", yref="paper", textangle=-90,
             showarrow=False, xanchor="center", yanchor="middle", font=INNER_TITLE),
    ],
    shapes=[
        dict(type="line", xref="paper", yref="paper", x0=X0, x1=X1, y0=Y1, y1=Y1,
             line=dict(color="#5A5A5A", width=3), layer="above"),
        dict(type="line", xref="paper", yref="paper", x0=X0, x1=X0, y0=Y0, y1=Y1,
             line=dict(color="#000000", width=2), layer="above"),
        # legend frame with drop shadow
        dict(type="rect", xref="paper", yref="paper", x0=px(259), x1=px(1818), y0=py(972), y1=py(923),
             fillcolor="#3A3A3A", line=dict(width=0), layer="below"),
        dict(type="rect", xref="paper", yref="paper", x0=px(255), x1=px(1813), y0=py(967), y1=py(918),
             fillcolor="#FFFFFF", line=dict(color="#666666", width=1.5), layer="below"),
    ],
    **legend_layout,
)

fig.write_html("out.html")
